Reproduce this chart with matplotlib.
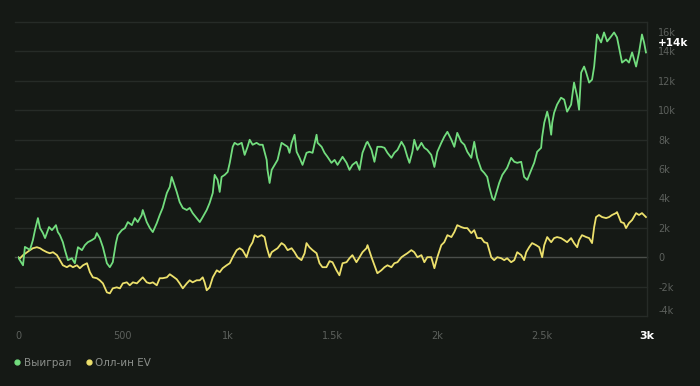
import matplotlib

matplotlib.use("Agg")
import matplotlib.pyplot as plt
import matplotlib.transforms as mtransforms
from matplotlib.lines import Line2D

# --- data (hand number, cumulative winnings) ---
won_hands = [
    0, 24, 33, 57, 71, 81, 95, 105, 119, 129, 148, 162, 181, 190, 200, 214, 224, 238, 257, 271,
    286, 305, 319, 333, 352, 367, 376, 390, 405, 424, 438, 452, 467, 476, 495, 510, 524, 543, 557, 571,
    590, 595, 614, 629, 643, 662, 676, 690, 710, 724, 733, 743, 757, 771, 786, 805, 819, 833, 852, 867,
    881, 900, 914, 929, 938, 952, 962, 971, 986, 1000, 1010, 1024, 1033, 1048, 1067, 1081, 1095, 1105, 1119, 1138,
    1152, 1167, 1186, 1190, 1200, 1210, 1224, 1238, 1257, 1271, 1286, 1295, 1305, 1319, 1329, 1343, 1357, 1376, 1390, 1405,
    1424, 1429, 1448, 1462, 1476, 1495, 1510, 1524, 1548, 1567, 1581, 1595, 1614, 1629, 1643, 1662, 1667, 1686, 1700, 1714,
    1733, 1748, 1762, 1781, 1795, 1810, 1829, 1843, 1857, 1867, 1881, 1890, 1905, 1924, 1938, 1952, 1971, 1986, 2000, 2019,
    2033, 2048, 2067, 2081, 2095, 2114, 2129, 2143, 2162, 2176, 2190, 2210, 2224, 2238, 2248, 2262, 2271, 2281, 2295, 2310,
    2333, 2352, 2367, 2381, 2400, 2414, 2429, 2448, 2462, 2476, 2495, 2500, 2510, 2524, 2533, 2543, 2548, 2557, 2571, 2590,
    2605, 2619, 2638, 2652, 2667, 2676, 2686, 2700, 2710, 2724, 2738, 2748, 2757, 2762, 2781, 2795, 2810, 2829, 2843, 2857,
    2876, 2881, 2900, 2914, 2929, 2948, 2962, 2976, 2986, 2995,
]
won_values = [
    0, -550, 700, 500, 1160, 1840, 2660, 1980, 1640, 1300, 2050, 1840, 2180, 1710, 1500, 1020, 480, -200, -70, -410,
    680, 480, 820, 1020, 1160, 1300, 1640, 1300, 680, -410, -680, -340, 960, 1500, 1840, 1980, 2390, 2180, 2660, 2390,
    2870, 3210, 2390, 1980, 1710, 2320, 2870, 3350, 4370, 4780, 5460, 5050, 4440, 3750, 3350, 3210, 3350, 3000, 2660, 2390,
    2730, 3210, 3690, 4370, 5600, 5260, 4440, 5460, 5600, 5800, 6420, 7510, 7780, 7650, 7780, 6960, 7510, 7990, 7650, 7780,
    7650, 7650, 6620, 5940, 5050, 5940, 6280, 6620, 7780, 7650, 7510, 7100, 7780, 8330, 7170, 6760, 6280, 7100, 7170, 7100,
    8330, 7780, 7510, 7100, 6830, 6420, 6620, 6280, 6830, 6420, 5940, 6280, 6490, 5940, 7100, 7780, 7850, 7300, 6490, 7510,
    7510, 7440, 7100, 6760, 7100, 7300, 7850, 7510, 6830, 6420, 7170, 7990, 7300, 7780, 7440, 7300, 6960, 6140, 7170, 7780,
    8190, 8530, 7990, 7510, 8460, 7850, 7650, 7170, 6760, 7850, 6760, 5940, 5730, 5460, 4780, 4030, 3890, 4370, 5050, 5600,
    6080, 6760, 6490, 6420, 6490, 5460, 5260, 5940, 6420, 7170, 7440, 8190, 9150, 9900, 9350, 8330, 9150, 9830, 10380, 10850,
    10720, 9900, 10380, 11880, 10920, 10030, 12560, 12970, 12560, 11880, 12080, 12970, 14340, 15150, 14610, 15290, 14680, 15020, 15290, 14950,
    13580, 13240, 13450, 13240, 13930, 12970, 13930, 15150, 14610, 13930,
]

ev_hands = [
    0, 10, 24, 43, 57, 71, 90, 105, 119, 138, 152, 167, 186, 200, 214, 233, 248, 262, 281, 295,
    310, 329, 343, 357, 376, 390, 405, 424, 438, 452, 471, 486, 500, 519, 533, 548, 567, 581, 595, 614,
    629, 643, 662, 676, 690, 710, 724, 738, 757, 771, 786, 805, 819, 833, 852, 867, 881, 890, 900, 914,
    929, 948, 962, 976, 995, 1010, 1024, 1043, 1057, 1071, 1090, 1105, 1119, 1129, 1143, 1162, 1176, 1186, 1200, 1210,
    1224, 1238, 1257, 1271, 1286, 1305, 1319, 1333, 1352, 1367, 1376, 1390, 1405, 1424, 1438, 1452, 1471, 1486, 1500, 1519,
    1533, 1548, 1567, 1581, 1595, 1614, 1629, 1643, 1662, 1667, 1686, 1700, 1714, 1733, 1748, 1762, 1781, 1795, 1810, 1829,
    1843, 1857, 1876, 1890, 1905, 1924, 1938, 1952, 1971, 1986, 2000, 2019, 2033, 2048, 2067, 2081, 2095, 2114, 2129, 2143,
    2162, 2176, 2190, 2210, 2224, 2238, 2257, 2271, 2286, 2305, 2319, 2333, 2352, 2367, 2381, 2400, 2414, 2424, 2438, 2452,
    2471, 2486, 2500, 2510, 2524, 2543, 2557, 2571, 2590, 2605, 2619, 2638, 2652, 2667, 2676, 2690, 2710, 2724, 2738, 2748,
    2757, 2771, 2786, 2805, 2819, 2833, 2852, 2857, 2876, 2890, 2900, 2914, 2929, 2948, 2962, 2976, 2995,
]
ev_values = [
    0, -70, 140, 340, 480, 610, 680, 610, 480, 340, 270, 340, 140, -200, -550, -680, -550, -680, -550, -750,
    -550, -410, -1020, -1370, -1430, -1570, -1780, -2390, -2460, -2120, -2050, -2120, -1780, -1710, -1910, -1710, -1780, -1570, -1370, -1710,
    -1780, -1710, -1910, -1430, -1430, -1370, -1160, -1300, -1500, -1780, -2120, -1780, -1570, -1710, -1570, -1570, -1370, -1710, -2250, -2050,
    -1370, -890, -1020, -750, -550, -410, 0, 480, 610, 480, 0, 680, 1020, 1500, 1370, 1500, 1370, 680, 0, 340,
    480, 610, 960, 820, 480, 610, 340, 0, -200, 270, 960, 680, 480, 270, -410, -680, -680, -270, -340, -890,
    -1230, -410, -340, -70, 140, -340, 0, 340, 610, 820, 0, -550, -1090, -890, -680, -550, -680, -410, -340, 0,
    140, 270, 480, 340, 0, 140, -340, 0, 0, -750, 0, 820, 1020, 1500, 1370, 1710, 2180, 2050, 1980, 1980,
    1640, 1840, 1300, 1300, 1020, 960, 0, -200, 0, -70, -200, -70, -340, -200, 340, 140, -200, 340, 680, 960,
    820, 680, 0, 820, 1370, 1020, 1300, 1370, 1300, 1160, 1020, 1300, 960, 680, 1160, 1500, 1370, 1300, 960, 2050,
    2730, 2870, 2730, 2660, 2730, 2870, 3000, 3070, 2390, 2320, 1980, 2320, 2530, 3000, 2870, 3000, 2730,
]

y_ticks = [-4000, -2000, 0, 2000, 4000, 6000, 8000, 10000, 12000, 14000, 16000]
y_tick_labels = ["-4k", "-2k", "0", "2k", "4k", "6k", "8k", "10k", "12k", "14k", "16k"]
x_ticks = [0, 500, 1000, 1500, 2000, 2500, 3000]
x_tick_labels = ["0", "500", "1k", "1.5k", "2k", "2.5k", "3k"]
series_names = ["Выиграл", "Олл-ин EV"]
final_label = "+14k"

BG = "#151915"
GREEN = "#72dd7e"
YELLOW = "#ece06c"
MUTED = "#5c605c"
GRID = "#262b27"

fig = plt.figure(figsize=(7.0, 3.86), dpi=100, facecolor=BG)
ax = fig.add_axes([18 / 700, 1 - 316 / 386, 629 / 700, 294 / 386], facecolor=BG)

ax.plot(ev_hands, ev_values, color=YELLOW, lw=1.3, zorder=3)
ax.plot(won_hands, won_values, color=GREEN, lw=1.3, zorder=4)

ax.set_xlim(0, 3000)
ax.set_ylim(-4000, 16000)

# horizontal grid, zero line a touch brighter (starts a few px left of hand 0)
for v in y_ticks:
    ax.axhline(v, xmin=-0.005, xmax=1.0, color="#4a4e4a" if v == 0 else GRID,
               lw=1.0, zorder=1, clip_on=False)

for side in ["left", "top", "bottom"]:
    ax.spines[side].set_visible(False)
ax.spines["right"].set_color(GRID)
ax.spines["right"].set_linewidth(1.0)

ax.yaxis.tick_right()
ax.set_yticks(y_ticks)
ax.set_yticklabels(y_tick_labels)
ax.set_xticks(x_ticks)
ax.set_xticklabels(x_tick_labels)
ax.tick_params(axis="y", length=0, pad=8, labelsize=7, labelcolor=MUTED)
ax.tick_params(axis="x", length=0, pad=11, labelsize=7, labelcolor=MUTED)

ylabels = ax.get_yticklabels()
# top label sits inside the plot box, a bit below its gridline
ylabels[-1].set_transform(ylabels[-1].get_transform()
                          + mtransforms.ScaledTranslation(0, -10 / 100, fig.dpi_scale_trans))
ylabels[0].set_va("bottom")
xlabels = ax.get_xticklabels()
xlabels[-1].set_color("white")
xlabels[-1].set_fontweight("bold")
xlabels[-1].set_fontsize(8)

# final result badge next to the right axis
tr = mtransforms.blended_transform_factory(ax.transAxes, ax.transData)
ax.annotate(final_label, xy=(1.0, 14600), xycoords=tr, xytext=(8, 0),
            textcoords="offset points", ha="left", va="center",
            color="white", fontsize=7.5, fontweight="bold")

handles = [
    Line2D([], [], marker="o", ls="", markersize=3.5, color=GREEN),
    Line2D([], [], marker="o", ls="", markersize=3.5, color=YELLOW),
]
fig.legend(handles, series_names, loc="center left", bbox_to_anchor=(0.004, 1 - 363 / 386),
           ncol=2, frameon=False, fontsize=7.5, labelcolor="#8a8e8a",
           handletextpad=0.1, columnspacing=1.2, handlelength=1.0)

fig.savefig("out.png", dpi=100, facecolor=BG)
